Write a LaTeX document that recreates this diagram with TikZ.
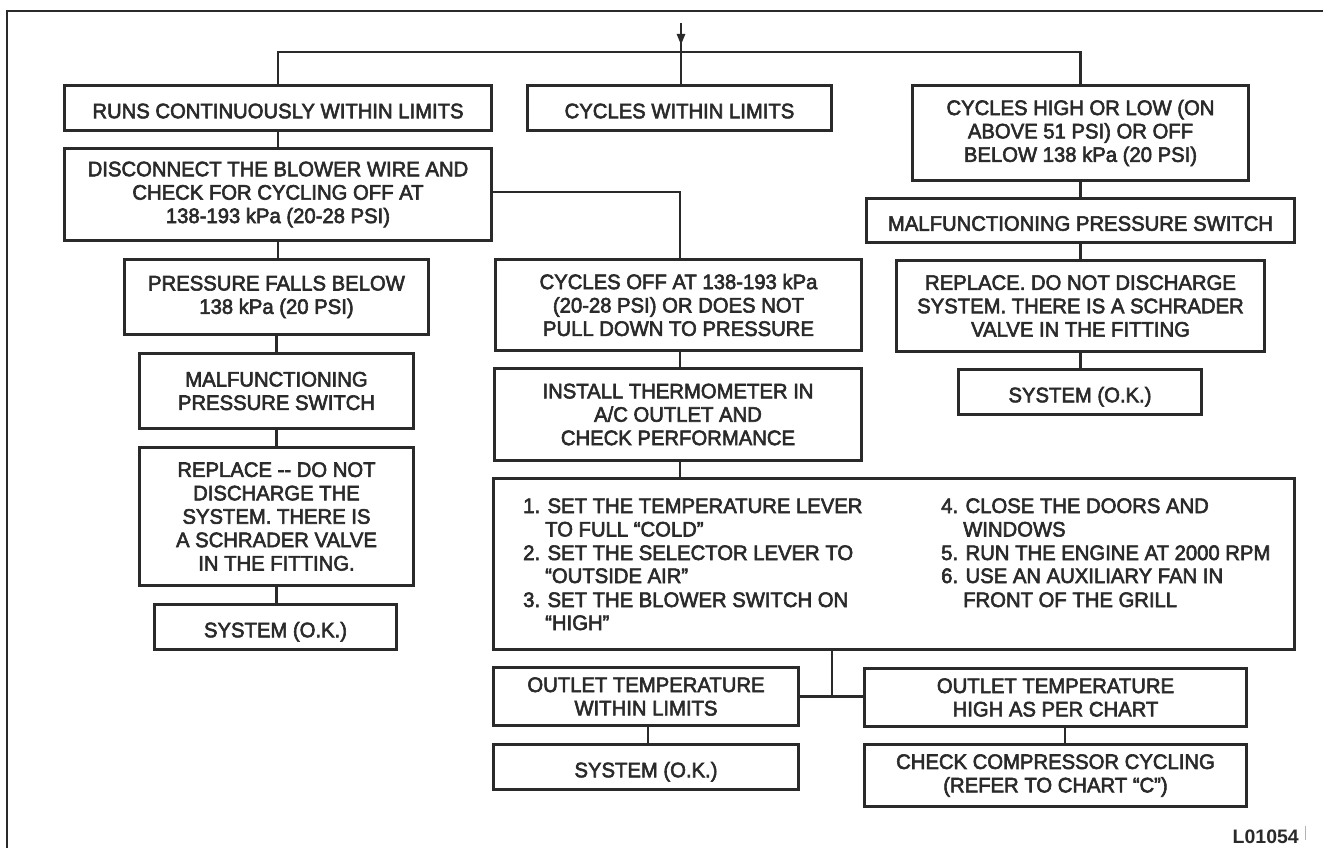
\documentclass[tikz,border=0pt]{standalone}
\usepackage{fontspec}
\setmainfont{Liberation Sans}
\newfontfamily\diagfont{Liberation Sans}[FakeBold=2.8,FakeStretch=0.965]
\usetikzlibrary{arrows.meta}
\definecolor{ink}{HTML}{2A2A2A}
\begin{document}
\begin{tikzpicture}[x=1pt,y=-1pt,
  box/.style={draw=ink, line width=3pt, text=ink, align=center, inner sep=0pt,
    font=\diagfont\fontsize{21}{23.4}\selectfont},
  single/.style={execute at begin node={\rule[-4.5pt]{0pt}{29.5pt}}},
  conn/.style={draw=ink, line width=2.6pt},
  frameline/.style={draw=ink, line width=2.8pt},
  itemtext/.style={text=ink, anchor=base west, inner sep=0pt, font=\diagfont\fontsize{21}{23.4}\selectfont}]
\useasboundingbox (0,0) rectangle (1323,848);

% partial frame
\coordinate (fTL) at (7,11);
\coordinate (fTR) at (1323,11);
\coordinate (fBL) at (7,848);
\draw[frameline] (fBL) -- (fTL) -- (fTR);

% boxes
\node[box, single, minimum width=427, minimum height=45] (runs) at (278,108) {RUNS CONTINUOUSLY WITHIN LIMITS};
\node[box, single, minimum width=304, minimum height=45] (cycw) at (679.5,108) {CYCLES WITHIN LIMITS};
\node[box, minimum width=336, minimum height=95] (cych) at (1080.5,133) {CYCLES HIGH OR LOW (ON\\ABOVE 51 PSI) OR OFF\\BELOW 138 kPa (20 PSI)};
\node[box, minimum width=427, minimum height=92] (disc) at (278,194.5) {DISCONNECT THE BLOWER WIRE AND\\CHECK FOR CYCLING OFF AT\\138-193 kPa (20-28 PSI)};
\node[box, single, minimum width=428, minimum height=44] (malr) at (1080.5,220.5) {MALFUNCTIONING PRESSURE SWITCH};
\node[box, minimum width=304, minimum height=75] (pfb) at (276.5,297) {PRESSURE FALLS BELOW\\138 kPa (20 PSI)};
\node[box, minimum width=366, minimum height=91] (coff) at (678.5,305) {CYCLES OFF AT 138-193 kPa\\(20-28 PSI) OR DOES NOT\\PULL DOWN TO PRESSURE};
\node[box, minimum width=368, minimum height=91] (repr) at (1080.5,306) {REPLACE. DO NOT DISCHARGE\\SYSTEM. THERE IS A SCHRADER\\VALVE IN THE FITTING};
\node[box, single, minimum width=243, minimum height=45] (sysr) at (1080,392) {SYSTEM (O.K.)};
\node[box, minimum width=274, minimum height=75] (mall) at (276.5,391) {MALFUNCTIONING\\PRESSURE SWITCH};
\node[box, minimum width=367, minimum height=92] (inst) at (678,414.5) {INSTALL THERMOMETER IN\\A/C OUTLET AND\\CHECK PERFORMANCE};
\node[box, minimum width=274, minimum height=138] (repl) at (276.5,516.5) {REPLACE -{}- DO NOT\\DISCHARGE THE\\SYSTEM. THERE IS\\A SCHRADER VALVE\\IN THE FITTING.};
\node[box, minimum width=801, minimum height=171] (big) at (894,564) {};
\node[box, single, minimum width=242, minimum height=45] (sysl) at (275.5,627) {SYSTEM (O.K.)};
\node[box, minimum width=305, minimum height=58] (otw) at (646,696.5) {OUTLET TEMPERATURE\\WITHIN LIMITS};
\node[box, minimum width=382, minimum height=58] (oth) at (1055.5,697.5) {OUTLET TEMPERATURE\\HIGH AS PER CHART};
\node[box, single, minimum width=305, minimum height=45] (sysb) at (646,767) {SYSTEM (O.K.)};
\node[box, minimum width=382, minimum height=62] (chk) at (1055.5,775.5) {CHECK COMPRESSOR CYCLING\\(REFER TO CHART “C”)};

% list inside big box
\node[itemtext] (l1) at (523,513) {1. SET THE TEMPERATURE LEVER};
\node[itemtext] (l1b) at (545,536.5) {TO FULL “COLD”};
\node[itemtext] (l2) at (523,560) {2. SET THE SELECTOR LEVER TO};
\node[itemtext] (l2b) at (545,583) {“OUTSIDE AIR”};
\node[itemtext] (l3) at (523,607) {3. SET THE BLOWER SWITCH ON};
\node[itemtext] (l3b) at (545,630) {“HIGH”};
\node[itemtext] (r4) at (941,513) {4. CLOSE THE DOORS AND};
\node[itemtext] (r4b) at (963,536.5) {WINDOWS};
\node[itemtext] (r5) at (941,560) {5. RUN THE ENGINE AT 2000 RPM};
\node[itemtext] (r6) at (941,583) {6. USE AN AUXILIARY FAN IN};
\node[itemtext] (r6b) at (963,607) {FRONT OF THE GRILL};

% top entry and split
\coordinate (in) at (681,23);
\coordinate (tip) at (681,45);
\coordinate (jM) at (681,52);
\draw[conn] (in) -- (in |- cycw.north);
\draw[draw=ink, line width=2.4pt, -{Triangle[length=11pt,width=8pt]}] (in) -- (tip);
\draw[conn] (runs.north) -- (runs.north |- jM) -- (cych.north |- jM) -- (cych.north);

% left column
\draw[conn] (runs.south) -- (runs.south |- disc.north);
\draw[conn] (disc.south) -- (disc.south |- pfb.north);
\draw[conn] (pfb.south) -- (pfb.south |- mall.north);
\draw[conn] (mall.south) -- (mall.south |- repl.north);
\draw[conn] (repl.south) -- (repl.south |- sysl.north);

% middle column
\draw[conn] ([yshift=2.5pt]disc.east) -| ([xshift=1.5pt]coff.north);
\draw[conn] ([xshift=1.5pt]coff.south) -- ([xshift=1.5pt]coff.south |- inst.north);
\draw[conn] ([xshift=2pt]inst.south) -- ([xshift=2pt]inst.south |- big.north);

% right column
\draw[conn] (cych.south) -- (cych.south |- malr.north);
\draw[conn] (malr.south) -- (malr.south |- repr.north);
\draw[conn] (repr.south) -- (repr.south |- sysr.north);

% bottom split
\coordinate (bj) at (832,697);
\draw[conn] (big.south -| bj) -- (bj);
\draw[conn] (otw.east) -- (otw.east -| oth.west);
\draw[conn] ([xshift=2pt]otw.south) -- ([xshift=2pt]sysb.north);
\draw[conn] ([xshift=9.5pt]oth.south) -- ([xshift=9.5pt]chk.north);

% figure code
\node[text=ink, anchor=base east, inner sep=0pt, font=\bfseries\fontsize{19.5}{20}\selectfont] (code) at (1299,843) {L01054};
\coordinate (tk1) at (1305,826);
\coordinate (tk2) at (1305,840);
\draw[draw=gray!60, line width=1pt] (tk1) -- (tk2);
\end{tikzpicture}
\end{document}
